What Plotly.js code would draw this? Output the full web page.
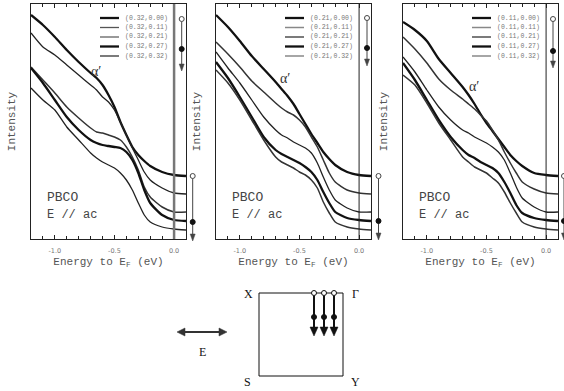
<!DOCTYPE html>
<html>
<head>
<meta charset="utf-8">
<script src="https://cdn.plot.ly/plotly-3.0.1.min.js"></script>
<style>html,body{margin:0;padding:0;background:#fff;}#chart{width:564px;height:391px;}</style>
</head>
<body>
<div id="chart"></div>
<script>
// ---------------- DATA ----------------
const energy = [-1.2,-1.1,-1.0,-0.9,-0.8,-0.7,-0.65,-0.6,-0.55,-0.5,-0.45,-0.4,-0.35,-0.3,-0.25,-0.2,-0.1,0,0.1];
const kxLabels = ['0.32','0.21','0.11'];
const kyLabels = ['0.00','0.11','0.21','0.27','0.32'];
const tickVals = [-1.0,-0.5,0.0];
const tickText = ['-1.0','-0.5','0.0'];

// panel 1 : kx = 0.32
const p1_k000 = [224,214,202,189,177,166,161,154,144,132,117,104,92,84,78,73,67,64,63];
const p1_k011 = [206,192,184,174,164,154,149,142,137,129,117,104,91,79,67,59,51,46,45];
const p1_k021 = [172,159,146,132,121,111,107,106,104,102,99,92,82,69,52,42,32,27,27];
const p1_k027 = [171,156,139,122,109,99,96,94,93,92,91,87,79,66,49,36,24,19,18];
const p1_k032 = [151,139,129,112,99,86,81,77,74,71,66,59,49,36,24,17,12,10,9];
// panel 2 : kx = 0.21
const p2_k000 = [224,212,198,183,170,157,150,143,135,125,115,105,96,87,80,74,67,64,63];
const p2_k011 = [197,185,172,158,147,136,131,127,124,119,112,102,92,79,66,57,49,46,45];
const p2_k021 = [187,171,156,139,122,109,104,101,97,94,91,86,76,62,49,39,31,27,27];
const p2_k027 = [177,161,142,122,102,89,85,82,79,76,72,67,59,47,36,27,21,19,18];
const p2_k032 = [169,156,139,119,99,82,77,74,71,67,64,59,51,37,26,17,12,10,9];
// panel 3 : kx = 0.11
const p3_k000 = [217,209,198,180,166,152,144,135,125,116,108,100,92,84,78,73,66,64,63];
const p3_k011 = [202,190,176,160,149,140,135,130,124,118,109,99,87,76,66,57,50,46,45];
const p3_k021 = [182,167,149,132,119,109,106,102,99,96,92,87,79,66,52,41,32,27,27];
const p3_k027 = [176,159,139,119,102,89,84,81,77,74,71,66,57,46,34,26,21,19,18];
const p3_k032 = [164,154,136,116,99,82,77,72,69,66,61,56,47,36,26,17,12,10,9];

const panelSeries = [
  [p1_k000,p1_k011,p1_k021,p1_k027,p1_k032],
  [p2_k000,p2_k011,p2_k021,p2_k027,p2_k032],
  [p3_k000,p3_k011,p3_k021,p3_k027,p3_k032]
];

// ---------------- STYLE / LAYOUT ----------------
const W = 564, H = 391;
const PX = x => x / W, PY = y => 1 - y / H;
const panelLeft = [31, 216, 403];
const panelW = 155;
const plotTop = 4, plotBottom = 239;
const lineColors = [
  ['#111','#222','#333','#111','#222'],
  ['#111','#333','#222','#111','#333'],
  ['#111','#333','#222','#111','#333']
];
const lineWidths = [
  [2.3,1.3,1.5,2.3,1.3],
  [2.3,1.5,1.3,2.3,1.5],
  [2.3,1.5,1.3,2.3,1.5]
];
const legendColors = [
  ['#111','#555','#777','#111','#333'],
  ['#111','#888','#333','#111','#888'],
  ['#111','#888','#333','#111','#888']
];
const mono = 'Liberation Mono, Courier New, monospace';
const serif = 'Liberation Serif, Times New Roman, serif';

const traces = [];
const layout = {
  width: W, height: H,
  margin: {l:0, r:0, t:0, b:0},
  paper_bgcolor: '#fff', plot_bgcolor: '#fff',
  showlegend: false,
  hovermode: false,
  shapes: [], annotations: []
};

panelSeries.forEach((series, p) => {
  const sx = p === 0 ? '' : String(p + 1);
  series.forEach((vals, i) => {
    traces.push({
      type: 'scatter', mode: 'lines',
      x: energy, y: vals,
      xaxis: 'x' + sx, yaxis: 'y' + sx,
      line: {color: lineColors[p][i], width: lineWidths[p][i], shape: 'spline', smoothing: 0.6},
      name: '(' + kxLabels[p] + ',' + kyLabels[i] + ')'
    });
  });
  const l = panelLeft[p];
  layout['xaxis' + sx] = {
    domain: [PX(l), PX(l + panelW)],
    anchor: 'y' + sx,
    range: [-1.2, 0.1],
    showline: true, mirror: 'ticks', linecolor: '#222', linewidth: 1,
    ticks: 'inside', ticklen: 4, tickcolor: '#222', tickwidth: 1,
    tickvals: tickVals, ticktext: tickText,
    ticklabelstandoff: 5,
    tickfont: {family: 'DejaVu Sans, sans-serif', size: 6.5, color: '#777'},
    minor: {dtick: 0.1, tick0: 0, ticks: 'inside', ticklen: 3, tickcolor: '#222'},
    showgrid: false, zeroline: false,
    title: {text: 'Energy to E<sub>F</sub> (eV)', font: {family: mono, size: 11, color: '#555'}, standoff: 3}
  };
  layout['yaxis' + sx] = {
    domain: [PY(plotBottom), PY(plotTop)],
    anchor: 'x' + sx,
    range: [0, 235],
    showline: true, mirror: true, linecolor: '#222', linewidth: 1,
    ticks: '', showticklabels: false, showgrid: false, zeroline: false,
    title: {text: 'Intensity', font: {family: mono, size: 11, color: '#555'}, standoff: 12}
  };
  // E_F reference line
  layout.shapes.push({type: 'line', xref: 'x' + sx, yref: 'y' + sx + ' domain', x0: 0, x1: 0, y0: 0, y1: 1,
    line: {color: p === 0 ? '#777' : '#222', width: p === 0 ? 2.5 : 1}});
  // compact legend
  const rowY = [18, 27.5, 37, 46.5, 56];
  kyLabels.forEach((ky, i) => {
    layout.shapes.push({type: 'line', xref: 'paper', yref: 'paper',
      x0: PX(l + 69), x1: PX(l + 88), y0: PY(rowY[i]), y1: PY(rowY[i]),
      line: {color: legendColors[p][i], width: lineWidths[p][i]}});
    layout.annotations.push({xref: 'paper', yref: 'paper', x: PX(l + 92), y: PY(rowY[i]),
      xanchor: 'left', yanchor: 'middle', showarrow: false,
      text: '(' + kxLabels[p] + ',' + ky + ')',
      font: {family: mono, size: 6.5, color: '#777'}});
  });
  // sample labels
  layout.annotations.push({xref: 'paper', yref: 'paper', x: PX(l + 14), y: PY(197), xanchor: 'left', yanchor: 'middle',
    showarrow: false, text: 'PBCO', font: {family: mono, size: 13, color: '#444'}});
  layout.annotations.push({xref: 'paper', yref: 'paper', x: PX(l + 14), y: PY(215), xanchor: 'left', yanchor: 'middle',
    showarrow: false, text: 'E // ac', font: {family: mono, size: 12, color: '#444'}});
});

// alpha' labels
[[96,71],[285,78],[474,87]].forEach(([x,y]) => {
  layout.annotations.push({xref:'paper', yref:'paper', x: PX(x), y: PY(y), xanchor:'center', yanchor:'middle',
    showarrow:false, text:'α′', font:{family: serif, size: 14, color:'#333'}});
});

// k-path arrows: line + open start circle + filled circle + triangular head
function pathArrow(x, yOpen, yFilled, yTip, color, lw, r, hw, hl) {
  layout.shapes.push({type:'line', xref:'paper', yref:'paper', x0: PX(x), x1: PX(x), y0: PY(yOpen + r), y1: PY(yTip - hl + 1),
    line:{color: color, width: lw}, layer:'above'});
  layout.shapes.push({type:'path', xref:'paper', yref:'paper', xsizemode:'pixel', ysizemode:'pixel',
    xanchor: PX(x), yanchor: PY(yTip), path: 'M' + (-hw) + ',' + hl + ' L' + hw + ',' + hl + ' L0,0 Z',
    fillcolor: color, line:{color: color, width: 0.5}, layer:'above'});
  layout.shapes.push({type:'circle', xref:'paper', yref:'paper', xsizemode:'pixel', ysizemode:'pixel',
    xanchor: PX(x), yanchor: PY(yOpen), x0: -r, x1: r, y0: -r, y1: r,
    fillcolor:'#fff', line:{color: color, width: 1}, layer:'above'});
  layout.shapes.push({type:'circle', xref:'paper', yref:'paper', xsizemode:'pixel', ysizemode:'pixel',
    xanchor: PX(x), yanchor: PY(yFilled), x0: -r, x1: r, y0: -r, y1: r,
    fillcolor: '#111', line:{color:'#111', width: 1}, layer:'above'});
}
pathArrow(181.7, 19, 49, 71, '#444', 1, 2.5, 2.5, 7);
pathArrow(192.7, 176, 222, 241, '#444', 1, 2.5, 2.5, 7);
pathArrow(367, 18, 48, 66, '#444', 1, 2.5, 2.5, 7);
pathArrow(378.5, 176, 221, 240, '#444', 1, 2.5, 2.5, 7);
pathArrow(553, 19, 51, 68, '#444', 1, 2.5, 2.5, 7);
pathArrow(564, 176, 221, 240, '#444', 1, 2.5, 2.5, 7);

// Brillouin-zone sketch
layout.shapes.push({type:'rect', xref:'paper', yref:'paper', x0: PX(259), x1: PX(343), y0: PY(376), y1: PY(293),
  line:{color:'#111', width:1}, fillcolor:'rgba(0,0,0,0)'});
[314, 324, 334].forEach(x => pathArrow(x, 293, 317, 336, '#111', 2, 2.5, 4, 9));
[['X',248,294],['Γ',355,294],['S',247,382],['Y',355,382]].forEach(([t,x,y]) => {
  layout.annotations.push({xref:'paper', yref:'paper', x: PX(x), y: PY(y), xanchor:'center', yanchor:'middle',
    showarrow:false, text:t, font:{family: serif, size: 12, color:'#111'}});
});
// polarisation double arrow
layout.shapes.push({type:'line', xref:'paper', yref:'paper', x0: PX(183), x1: PX(221), y0: PY(332), y1: PY(332),
  line:{color:'#333', width:2}});
layout.shapes.push({type:'path', xref:'paper', yref:'paper', xsizemode:'pixel', ysizemode:'pixel',
  xanchor: PX(177), yanchor: PY(332), path:'M0,0 L8,4 L8,-4 Z', fillcolor:'#333', line:{color:'#333', width:0.5}});
layout.shapes.push({type:'path', xref:'paper', yref:'paper', xsizemode:'pixel', ysizemode:'pixel',
  xanchor: PX(227), yanchor: PY(332), path:'M0,0 L-8,4 L-8,-4 Z', fillcolor:'#333', line:{color:'#333', width:0.5}});
layout.annotations.push({xref:'paper', yref:'paper', x: PX(202), y: PY(352), xanchor:'center', yanchor:'middle',
  showarrow:false, text:'E', font:{family: serif, size: 12, color:'#111'}});

Plotly.newPlot('chart', traces, layout, {staticPlot: true, displayModeBar: false});
</script>
</body>
</html>
